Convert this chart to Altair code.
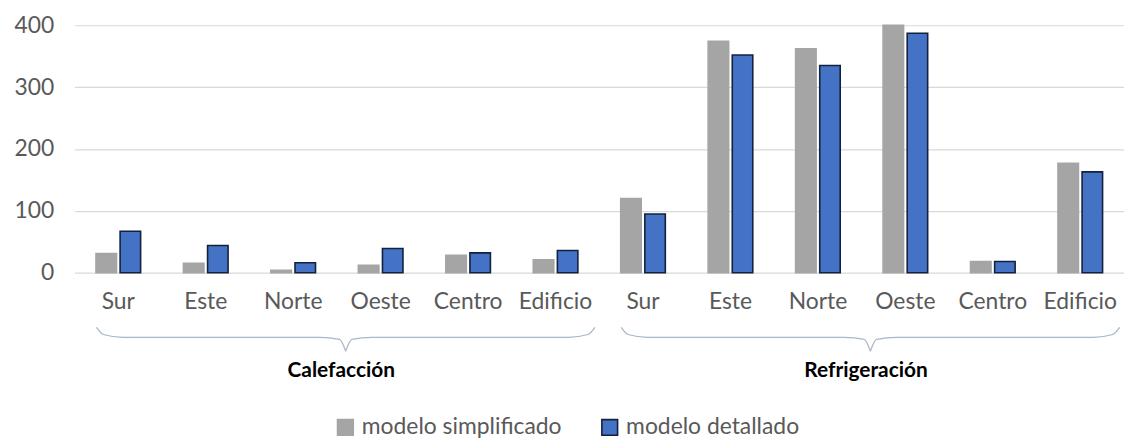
import altair as alt
import pandas as pd

groups = ["Calefacción", "Refrigeración"]
zones = ["Sur", "Este", "Norte", "Oeste", "Centro", "Edificio"]
series = ["modelo simplificado", "modelo detallado"]
cal_simpl = [31, 15, 4, 12, 28, 21]
cal_det = [67, 44, 16, 39, 32, 36]
ref_simpl = [120, 374, 362, 400, 18, 177]
ref_det = [95, 352, 335, 387, 18, 163]
y_ticks = [0, 100, 200, 300, 400]

values = {("Calefacción", series[0]): cal_simpl, ("Calefacción", series[1]): cal_det,
          ("Refrigeración", series[0]): ref_simpl, ("Refrigeración", series[1]): ref_det}

rows = []
keys = []
for g in groups:
    for i, z in enumerate(zones):
        k = f"{g}|{z}"
        keys.append(k)
        for s in series:
            rows.append({"key": k, "group": g, "zone": z, "series": s, "value": values[(g, s)][i]})
df = pd.DataFrame(rows)

W, H = 1056, 249
FONT = "Lato"
GRAY = "#A5A5A5"
BLUE = "#4472C4"
EDGE = "#14213D"

# brace geometry (in category units), built from each group's extent
brace_rows = []
n = len(zones)
for gi, g in enumerate(groups):
    x0 = gi * n + 0.25
    x1 = gi * n + n - 0.05
    xm = (x0 + x1) / 2
    left = [(x0, 0.0), (x0 + 0.08, 0.3), (x0 + 0.3, 0.42), (xm - 0.3, 0.42), (xm - 0.07, 0.5), (xm, 1.0)]
    right = [(xm, 1.0), (xm + 0.07, 0.5), (xm + 0.3, 0.42), (x1 - 0.3, 0.42), (x1 - 0.08, 0.3), (x1, 0.0)]
    for side, pts in (("l", left), ("r", right)):
        for j, (px, py) in enumerate(pts):
            brace_rows.append({"part": f"{g}-{side}", "bx": px, "by": py, "o": j})
brace_df = pd.DataFrame(brace_rows)
label_df = pd.DataFrame({"group": groups, "cx": [gi * n + n / 2 + 0.05 for gi in range(len(groups))]})

bars = alt.Chart(df).mark_bar(strokeWidth=1.6).encode(
    x=alt.X("key:N", sort=keys, title=None,
            scale=alt.Scale(paddingInner=0.49, paddingOuter=0.245),
            axis=alt.Axis(labelExpr="split(datum.label, '|')[1]", labelAngle=0, domain=False,
                          ticks=False, labelPadding=18, labelFont=FONT, labelFontSize=23,
                          labelColor="#595959", grid=False)),
    xOffset=alt.XOffset("series:N", sort=series, scale=alt.Scale(paddingInner=0.15)),
    y=alt.Y("value:Q", title=None,
            scale=alt.Scale(domain=[0, 400], nice=False),
            axis=alt.Axis(values=y_ticks, domain=False, ticks=False, labelPadding=21,
                          labelFont=FONT, labelFontSize=23, labelColor="#595959",
                          gridColor="#D9D9D9", gridWidth=1.2, minExtent=67, maxExtent=67)),
    fill=alt.Fill("series:N", sort=series, title=None,
                  scale=alt.Scale(domain=series, range=[GRAY, BLUE]),
                  legend=alt.Legend(orient="none", legendX=261, legendY=393, direction="horizontal",
                                    symbolType="square", symbolSize=250, symbolStrokeWidth=1.6,
                                    labelFont=FONT, labelFontSize=23, labelColor="#595959",
                                    labelOffset=5, columnPadding=36, padding=0, labelLimit=400)),
    stroke=alt.Stroke("series:N", sort=series, title=None,
                      scale=alt.Scale(domain=series, range=[GRAY, EDGE])),
)

braces = alt.Chart(brace_df).mark_line(color="#A9B7C7", strokeWidth=1.3, interpolate="monotone").encode(
    x=alt.X("bx:Q", scale=alt.Scale(domain=[0, 12], nice=False, zero=False), axis=None),
    y=alt.Y("by:Q", scale=alt.Scale(domain=[0, 1], range=[H + 55, H + 79], nice=False, zero=False), axis=None),
    detail="part:N",
    order="o:Q",
)

glabels = alt.Chart(label_df).mark_text(font=FONT, fontSize=21, fontWeight="bold", color="#000000",
                                        baseline="alphabetic", align="center").encode(
    x=alt.X("cx:Q", scale=alt.Scale(domain=[0, 12], nice=False, zero=False), axis=None),
    y=alt.value(H + 105),
    text="group:N",
)

chart = alt.layer(bars, braces, glabels).resolve_scale(x="independent", y="independent").properties(
    width=W, height=H,
    autosize=alt.AutoSizeParams(type="none"),
    padding={"left": 67, "top": 16, "right": 0, "bottom": 166},
).configure_view(stroke=None)

chart.save("out.html", embed_options={"renderer": "svg", "actions": False})
